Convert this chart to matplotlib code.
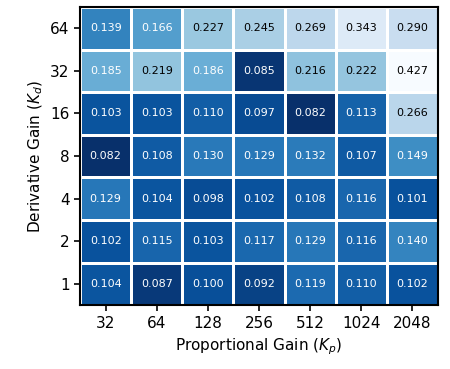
import numpy as np
import matplotlib
matplotlib.use("Agg")
import matplotlib.pyplot as plt
from matplotlib.colors import LogNorm

kp_labels = ["32", "64", "128", "256", "512", "1024", "2048"]
kd_labels = ["64", "32", "16", "8", "4", "2", "1"]

row_kd64 = [0.139, 0.166, 0.227, 0.245, 0.269, 0.343, 0.290]
row_kd32 = [0.185, 0.219, 0.186, 0.085, 0.216, 0.222, 0.427]
row_kd16 = [0.103, 0.103, 0.110, 0.097, 0.082, 0.113, 0.266]
row_kd8 = [0.082, 0.108, 0.130, 0.129, 0.132, 0.107, 0.149]
row_kd4 = [0.129, 0.104, 0.098, 0.102, 0.108, 0.116, 0.101]
row_kd2 = [0.102, 0.115, 0.103, 0.117, 0.129, 0.116, 0.140]
row_kd1 = [0.104, 0.087, 0.100, 0.092, 0.119, 0.110, 0.102]

data = np.array([row_kd64, row_kd32, row_kd16, row_kd8, row_kd4, row_kd2, row_kd1])

fig = plt.figure(figsize=(4.5, 3.69), dpi=100)
ax = fig.add_axes([0.178, 0.173, 0.795, 0.808])

norm = LogNorm(vmin=data.min(), vmax=data.max())
ax.pcolormesh(np.arange(8), np.arange(8), data[::-1], cmap="Blues_r", norm=norm,
              edgecolors="white", linewidth=0.75)

for i in range(data.shape[0]):
    for j in range(data.shape[1]):
        v = data[i, j]
        color = "black" if v > 0.2 else "white"
        ax.text(j + 0.5, data.shape[0] - 1 - i + 0.5, f"{v:.3f}",
                ha="center", va="center", fontsize=8, color=color)

ax.set_xlim(0, 7)
ax.set_ylim(0, 7)
ax.set_xticks(np.arange(7) + 0.5)
ax.set_xticklabels(kp_labels, fontsize=11)
ax.set_yticks(np.arange(7) + 0.5)
ax.set_yticklabels(kd_labels[::-1], fontsize=11)
ax.tick_params(length=4, width=1.2)
ax.set_xlabel("Proportional Gain ($K_p$)", fontsize=11)
ax.set_ylabel("Derivative Gain ($K_d$)", fontsize=11)
for s in ax.spines.values():
    s.set_linewidth(1.5)

fig.savefig("out.png", dpi=100)
